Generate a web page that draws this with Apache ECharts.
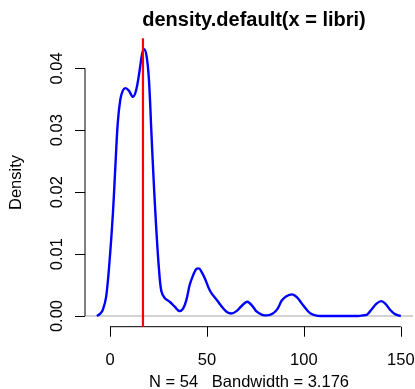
<!DOCTYPE html>
<html>
<head>
<meta charset="utf-8">
<script src="https://cdn.jsdelivr.net/npm/echarts@6/dist/echarts.min.js"></script>
<style>
  html, body { margin: 0; padding: 0; background: #fff; }
  #chart { width: 415px; height: 389px; }
</style>
</head>
<body>
<div id="chart"></div>
<script>
// Kernel density estimate of "libri" (N = 54, bandwidth 3.176)
const densityX = [
  -6.8, -5.0, -3.7, -2.0, -0.3, 1.5, 2.85, 4.0, 5.3, 6.6, 8.0, 9.7, 11.8, 13.5,
  15.3, 16.6, 17.6, 18.9, 20.1, 21.3, 22.5, 23.9, 25.3, 26.5, 28.2, 30.8, 33.4,
  35.8, 37.7, 39.4, 41.1, 42.9, 44.5, 45.8, 47.3, 48.9, 51.7, 55.8, 58.5, 60.5,
  62.5, 65.3, 67.5, 70.8, 73.5, 75.7, 78.5, 81.0, 84.0, 86.5, 88.6, 91.0, 93.9,
  96.5, 99.0, 101.5, 103.5, 106.0, 108.5, 115.0, 122.0, 128.0, 130.5, 132.5,
  135.0, 137.5, 139.9, 142.0, 144.5, 147.0, 150.0
];
const densityY = [
  0.0000, 0.0004, 0.0010, 0.0031, 0.0086, 0.0166, 0.0247, 0.0312, 0.0349, 0.0364,
  0.0368, 0.0364, 0.0354, 0.0365, 0.0397, 0.0424, 0.0431, 0.0419, 0.0381, 0.0300,
  0.0220, 0.0139, 0.0074, 0.0040, 0.0029, 0.0023, 0.0015, 0.0008, 0.0012, 0.0026,
  0.0050, 0.0066, 0.0076, 0.0077, 0.0071, 0.0061, 0.0040, 0.0023, 0.0012, 0.0006,
  0.0004, 0.0008, 0.0015, 0.0023, 0.0016, 0.0007, 0.0002, 0.0001, 0.0004, 0.0012,
  0.0025, 0.0032, 0.0035, 0.0030, 0.0020, 0.0010, 0.0004, 0.0001, 0.0000, 0.0000,
  0.0000, 0.0000, 0.0001, 0.0002, 0.0011, 0.0020, 0.0024, 0.0020, 0.0010, 0.0003,
  0.0000
];
const xTicks = [0, 50, 100, 150];
const yTicks = [0.00, 0.01, 0.02, 0.03, 0.04];
const markerX = 17;           // vertical reference line
const xRange = [-12.9, 156.3];
const yRange = [-0.001725, 0.04485];

const titleText = 'density.default(x = libri)';
const xLabelText = 'N = 54   Bandwidth = 3.176';
const yLabelText = 'Density';

const FONT = '"Liberation Sans", Arial, Helvetica, sans-serif';

const curve = densityX.map((x, i) => [x, densityY[i]]);

const chart = echarts.init(document.getElementById('chart'), null, { renderer: 'canvas' });

chart.setOption({
  animation: false,
  backgroundColor: '#fff',
  title: {
    text: titleText,
    left: 249,
    top: 5,
    textAlign: 'center',
    textStyle: { fontFamily: FONT, fontSize: 20, fontWeight: 'bold', color: '#000' }
  },
  grid: { left: 85, top: 38.3, width: 328, height: 288.4, outerBoundsMode: 'none', containLabel: false },
  xAxis: {
    type: 'value',
    min: xRange[0],
    max: xRange[1],
    axisLine: { show: false, onZero: false },
    splitLine: { show: false },
    axisTick: { show: true, customValues: xTicks, length: 10, lineStyle: { color: '#000', width: 1 } },
    axisLabel: { customValues: xTicks, margin: 25, fontFamily: FONT, fontSize: 16.5, color: '#000' },
    name: xLabelText,
    nameLocation: 'middle',
    nameGap: 46,
    nameTextStyle: { fontFamily: FONT, fontSize: 16.5, color: '#000' }
  },
  yAxis: {
    type: 'value',
    min: yRange[0],
    max: yRange[1],
    axisLine: { show: false, onZero: false },
    splitLine: { show: false },
    axisTick: { show: true, customValues: yTicks, length: 10, lineStyle: { color: '#000', width: 1 } },
    axisLabel: {
      customValues: yTicks,
      rotate: 90,
      margin: 19,
      formatter: v => v.toFixed(2),
      fontFamily: FONT, fontSize: 16.5, color: '#000'
    },
    name: yLabelText,
    nameLocation: 'middle',
    nameRotate: 90,
    nameGap: 60,
    nameTextStyle: { fontFamily: FONT, fontSize: 16.5, color: '#000' }
  },
  series: [
    {
      // zero baseline across the plot region
      type: 'line', data: [[xRange[0], 0], [xRange[1], 0]],
      symbol: 'none', silent: true, clip: false, z: 1,
      lineStyle: { color: '#d3d3d3', width: 2 }
    },
    {
      // x axis line spanning first to last tick
      type: 'line', data: [[xTicks[0], yRange[0]], [xTicks[xTicks.length - 1], yRange[0]]],
      symbol: 'none', silent: true, clip: false, z: 2,
      lineStyle: { color: '#000', width: 1 }
    },
    {
      // y axis line spanning first to last tick
      type: 'line', data: [[xRange[0], yTicks[0]], [xRange[0], yTicks[yTicks.length - 1]]],
      symbol: 'none', silent: true, clip: false, z: 2,
      lineStyle: { color: '#000', width: 1 }
    },
    {
      name: 'density',
      type: 'line', data: curve,
      symbol: 'none', smooth: 0.35, clip: false, z: 3,
      lineStyle: { color: '#0000ff', width: 2.4 }
    },
    {
      // vertical reference line
      type: 'line', data: [[markerX, yRange[0]], [markerX, yRange[1]]],
      symbol: 'none', silent: true, clip: false, z: 4,
      lineStyle: { color: '#ff0000', width: 2.2 }
    }
  ]
});
</script>
</body>
</html>
